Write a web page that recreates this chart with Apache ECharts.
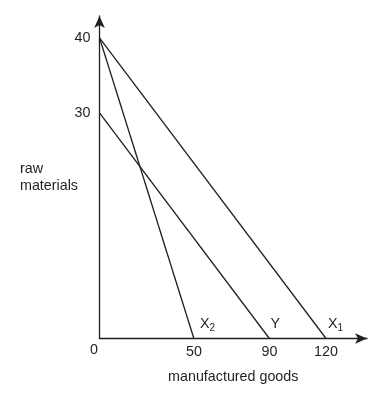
<!DOCTYPE html>
<html>
<head>
<meta charset="utf-8">
<script src="https://cdn.jsdelivr.net/npm/echarts@6/dist/echarts.min.js"></script>
<style>html,body{margin:0;padding:0;background:#fff;}#c{width:388px;height:396px;}</style>
</head>
<body>
<div id="c"></div>
<script>
// Data
const xTickValues = [50, 90, 120];
const yTickValues = [30, 40];
const lineX2 = [[0, 40], [50, 0]];
const lineY = [[0, 30], [90, 0]];
const lineX1 = [[0, 40], [120, 0]];
const lineNames = ['X2', 'Y', 'X1'];
const xTitle = 'manufactured goods';
const yTitle = 'raw\nmaterials';

const ink = '#231f20';
const font = 'Liberation Sans, Arial, sans-serif';
const fs = 14.3;

const chart = echarts.init(document.getElementById('c'), null, {renderer: 'canvas'});

function labelRich(name) {
  if (name.length === 2) return '{a|' + name[0] + '}{s|' + name[1] + '}';
  return '{a|' + name + '}';
}
const rich = {
  a: {fontSize: fs, fontFamily: font, color: ink, lineHeight: 16},
  s: {fontSize: 10, fontFamily: font, color: ink, lineHeight: 16, padding: [8, 0, 0, 0]}
};

function mkSeries(data, name, offset) {
  return {
    type: 'line',
    data: [
      {value: data[0], symbolSize: 0, label: {show: false}},
      {value: data[1], symbolSize: 0, label: {
        show: true, position: 'right', offset: offset,
        formatter: labelRich(name), rich: rich
      }}
    ],
    symbol: 'circle',
    showSymbol: true,
    clip: false,
    silent: true,
    animation: false,
    lineStyle: {color: ink, width: 1.3},
    itemStyle: {color: ink}
  };
}

const option = {
  animation: false,
  grid: {left: 99.5, right: 21, top: 16, bottom: 57.5},
  xAxis: {
    type: 'value', min: 0, max: 141.7,
    name: xTitle, nameLocation: 'middle', nameGap: 32,
    nameTextStyle: {fontSize: fs, fontFamily: font, color: ink},
    axisLine: {show: true, lineStyle: {color: ink, width: 1.3}, symbol: ['none', 'arrow'], symbolSize: [8, 12]},
    axisTick: {show: false},
    splitLine: {show: false},
    axisLabel: {
      customValues: [0].concat(xTickValues),
      fontSize: fs, fontFamily: font, color: ink, margin: 7,
      formatter: function (v) { return v === 0 ? '{z|0}' : String(v); },
      rich: {z: {fontSize: fs, fontFamily: font, color: ink, lineHeight: 9, padding: [0, 11, 0, 0]}}
    }
  },
  yAxis: {
    type: 'value', min: 0, max: 42.9,
    axisLine: {show: true, lineStyle: {color: ink, width: 1.3}, symbol: ['none', 'arrow'], symbolSize: [8, 12]},
    axisTick: {show: false},
    splitLine: {show: false},
    axisLabel: {customValues: yTickValues, fontSize: fs, fontFamily: font, color: ink, margin: 9}
  },
  graphic: [{
    type: 'text', left: 20, top: 161,
    style: {text: yTitle, font: fs + 'px ' + font, fill: ink, lineHeight: 17}
  }],
  series: [
    mkSeries(lineX2, lineNames[0], [1, -14]),
    mkSeries(lineY, lineNames[1], [-4, -14]),
    mkSeries(lineX1, lineNames[2], [-3, -14])
  ]
};
chart.setOption(option);
</script>
</body>
</html>
